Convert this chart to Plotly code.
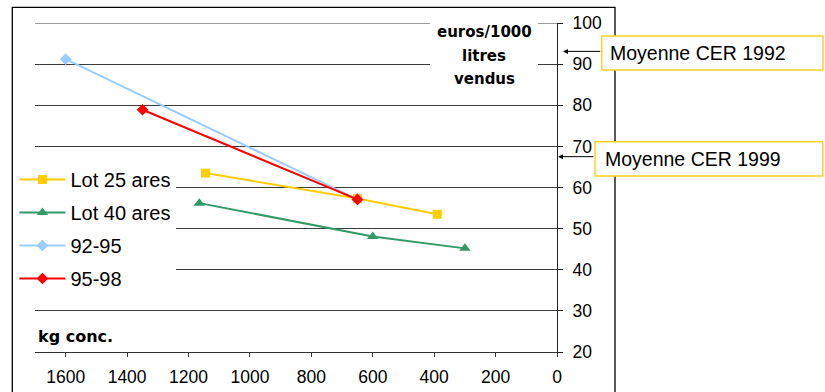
import plotly.graph_objects as go

# ---- data ----
lot25_x = [1145, 650, 390]
lot25_y = [63.5, 57.3, 53.5]
lot40_x = [1165, 600, 300]
lot40_y = [56.2, 48.1, 45.2]
p9295_x = [1600, 650]
p9295_y = [91.2, 57.1]
p9598_x = [1350, 650]
p9598_y = [78.9, 57.1]

series_names = ["Lot 25 ares", "Lot 40 ares", "92-95", "95-98"]
x_ticks = [1600, 1400, 1200, 1000, 800, 600, 400, 200, 0]
y_ticks = [20, 30, 40, 50, 60, 70, 80, 90, 100]
cer_labels = ["Moyenne CER 1992", "Moyenne CER 1999"]
cer_values = [93.1, 67.5]
y_title_lines = ["euros/1000", "litres", "vendus"]
x_title = "kg conc."

# ---- layout geometry ----
W, H = 825, 392
L, R, T, B = 35, 268, 23, 40
PW, PH = W - L - R, H - T - B


def px(xp):
    return (xp - L) / PW


def py(yp):
    return (H - B - yp) / PH


FONT = "Arial, Liberation Sans, sans-serif"
BOLD = "DejaVu Sans, Verdana, sans-serif"
GRID = "#3c3c3c"

fig = go.Figure()
styles = [
    dict(color="#FFCC00", symbol="square", size=9),
    dict(color="#339966", symbol="triangle-up", size=10),
    dict(color="#99CCFF", symbol="diamond", size=9),
    dict(color="#FF0000", symbol="diamond", size=9),
]
data = [(lot25_x, lot25_y), (lot40_x, lot40_y), (p9295_x, p9295_y), (p9598_x, p9598_y)]
for name, (xs, ys), st in zip(series_names, data, styles):
    fig.add_trace(go.Scatter(
        x=xs, y=ys, name=name, mode="lines+markers", legendgroup=name,
        line=dict(color=st["color"], width=2),
        marker=dict(color=st["color"], symbol=st["symbol"], size=st["size"]),
    ))

shapes = [
    # top gridline (plotly drops the grid line lying on the plot edge)
    dict(type="line", xref="paper", yref="y", x0=0, x1=1, y0=y_ticks[-1], y1=y_ticks[-1],
         line=dict(color=GRID, width=1), layer="below"),
    # outer frame
    dict(type="rect", xref="paper", yref="paper", x0=px(12.3), x1=px(615), y0=py(7.3), y1=py(420),
         line=dict(color="black", width=1.3), fillcolor="rgba(0,0,0,0)", layer="above"),
    # white box behind y title
    dict(type="rect", xref="paper", yref="paper", x0=px(430), x1=px(538), y0=py(20), y1=py(90),
         line=dict(width=0), fillcolor="white", layer="above"),
    # CER boxes
    dict(type="rect", xref="paper", yref="paper", x0=px(601.7), x1=px(823), y0=py(36), y1=py(70),
         line=dict(color="#FFD21F", width=1.5), fillcolor="white", layer="above"),
    dict(type="rect", xref="paper", yref="paper", x0=px(595), x1=px(822.7), y0=py(141.7), y1=py(176),
         line=dict(color="#FFD21F", width=1.5), fillcolor="white", layer="above"),
]

annotations = []
# CER labels and arrows
cer_text_pos = [(608, 53), (602.5, 158.5)]
cer_arrow = [(563, 38.7), (558, 37)]
for lab, val, (tx, ty), (ax_tip, alen) in zip(cer_labels, cer_values, cer_text_pos, cer_arrow):
    annotations.append(dict(text=lab, xref="paper", yref="paper", x=px(tx), y=py(ty),
                            xanchor="left", yanchor="middle", showarrow=False,
                            font=dict(family=FONT, size=19.5, color="black")))
    annotations.append(dict(text="", xref="paper", yref="y", x=px(ax_tip), y=val,
                            showarrow=True, ax=alen, ay=0, arrowhead=2, arrowsize=1,
                            arrowwidth=1, arrowcolor="black"))

# y title (three lines)
for line, yp in zip(y_title_lines, [32.3, 56, 79.3]):
    annotations.append(dict(text=f"<b>{line}</b>", xref="paper", yref="paper", x=px(484), y=py(yp),
                            xanchor="center", yanchor="middle", showarrow=False,
                            font=dict(family=BOLD, size=15, color="black")))
# x title
annotations.append(dict(text=f"<b>{x_title}</b>", xref="paper", yref="paper", x=px(36), y=py(336),
                        xanchor="left", yanchor="middle", showarrow=False,
                        font=dict(family=BOLD, size=16, color="black")))

fig.update_layout(
    width=W, height=H,
    margin=dict(l=L, r=R, t=T, b=B, autoexpand=False),
    paper_bgcolor="white", plot_bgcolor="white",
    font=dict(family=FONT, color="black"),
    showlegend=True,
    legend=dict(x=px(14.4), y=py(160), xanchor="left", yanchor="top",
                bgcolor="white", borderwidth=0, font=dict(family=FONT, size=20, color="black"),
                itemwidth=46, tracegroupgap=4),
    shapes=shapes,
    annotations=annotations,
    xaxis=dict(range=[1700, 0], tickvals=x_ticks, ticktext=[str(v) for v in x_ticks],
               showgrid=False, zeroline=False, showline=True, linecolor="#333", linewidth=1,
               ticks="outside", ticklen=4, tickcolor="#333", tickwidth=1, ticklabelstandoff=5,
               tickfont=dict(family=FONT, size=17.5, color="black")),
    yaxis=dict(range=[20, 100], tickvals=y_ticks, side="right",
               showgrid=True, gridcolor=GRID, gridwidth=1, zeroline=False,
               showline=True, linecolor="#222", linewidth=1,
               ticks="outside", ticklen=5, tickcolor="#222", tickwidth=1, ticklabelstandoff=6,
               tickfont=dict(family=FONT, size=17.5, color="black")),
)

fig.write_html("out.html", config={"displayModeBar": False},
               post_script="document.body.style.margin='0';")
